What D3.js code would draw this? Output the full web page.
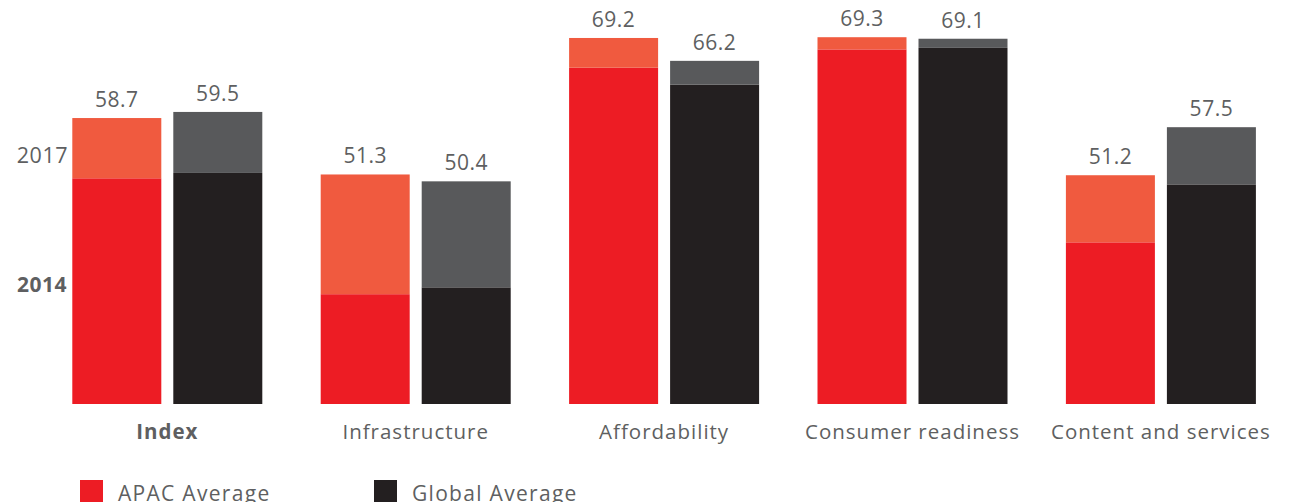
<!DOCTYPE html>
<html>
<head>
<meta charset="utf-8">
<script src="https://cdn.jsdelivr.net/npm/d3@7"></script>
<style>
  html, body { margin: 0; padding: 0; background: #fff; }
  svg { display: block; }
  text { font-family: "Open Sans", sans-serif; fill: #5e5f61; }
</style>
</head>
<body>
<svg id="chart" width="1289" height="502"></svg>
<script>
// Pillar scores, 2014 and 2017, for the APAC and global averages
const categories = ["Index", "Infrastructure", "Affordability", "Consumer readiness", "Content and services"];
const apac2014   = [50.8, 35.6, 65.3, 67.7, 42.4];
const apac2017   = [58.7, 51.3, 69.2, 69.3, 51.2];
const global2014 = [51.5, 36.5, 63.1, 67.9, 50.0];
const global2017 = [59.5, 50.4, 66.2, 69.1, 57.5];
const seriesNames = ["APAC Average", "Global Average"];
const yearLabels = ["2017", "2014"];

const colors = {
  apac:   { y2014: "#ed1c24", y2017: "#f05a3f" },
  global: { y2014: "#231f20", y2017: "#58595b" }
};

const svg = d3.select("#chart");
const baseline = 404;

// category centres
const x = d3.scalePoint()
  .domain(categories)
  .range([43.1, 1285.1])
  .padding(0.5);

const barW = 89, innerGap = 12;

const y = d3.scaleLinear()
  .domain([21.2, 74.18])
  .range([baseline, 0]);

const rows = categories.map((c, i) => ({
  cat: c,
  bars: [
    { key: "apac",   offset: -(innerGap / 2 + barW), v14: apac2014[i],   v17: apac2017[i] },
    { key: "global", offset: innerGap / 2,           v14: global2014[i], v17: global2017[i] }
  ]
}));

const groups = svg.selectAll("g.cat")
  .data(rows)
  .join("g")
  .attr("class", "cat")
  .attr("transform", d => `translate(${x(d.cat)},0)`);

const bars = groups.selectAll("g.bar")
  .data(d => d.bars)
  .join("g")
  .attr("class", "bar");

// 2014 portion
bars.append("rect")
  .attr("x", d => d.offset)
  .attr("width", barW)
  .attr("y", d => y(d.v14))
  .attr("height", d => baseline - y(d.v14))
  .attr("fill", d => colors[d.key].y2014);

// growth to 2017
bars.append("rect")
  .attr("x", d => d.offset)
  .attr("width", barW)
  .attr("y", d => y(d.v17))
  .attr("height", d => y(d.v14) - y(d.v17))
  .attr("fill", d => colors[d.key].y2017);

// 2017 value labels
bars.append("text")
  .attr("x", d => d.offset + barW / 2)
  .attr("y", d => y(d.v17) - 11)
  .attr("text-anchor", "middle")
  .style("font-size", "21px")
  .style("letter-spacing", "0.5px")
  .text(d => d3.format(".1f")(d.v17));

// category labels
groups.append("text")
  .attr("x", 0)
  .attr("y", 439)
  .attr("text-anchor", "middle")
  .style("font-size", "20.5px")
  .style("letter-spacing", "1px")
  .style("font-weight", (d, i) => i === 0 ? 700 : 400)
  .text(d => d.cat);

// year key on the left
svg.append("text")
  .attr("x", 68).attr("y", 163)
  .attr("text-anchor", "end")
  .style("font-size", "21.5px")
  .style("letter-spacing", "0.5px")
  .text(yearLabels[0]);
svg.append("text")
  .attr("x", 67).attr("y", 292)
  .attr("text-anchor", "end")
  .style("font-size", "21px")
  .style("letter-spacing", "0.5px")
  .style("font-weight", 700)
  .text(yearLabels[1]);

// legend
const legend = svg.selectAll("g.legend")
  .data(seriesNames)
  .join("g")
  .attr("class", "legend")
  .attr("transform", (d, i) => `translate(${80 + i * 294},480)`);
legend.append("rect")
  .attr("width", 23).attr("height", 23)
  .attr("fill", (d, i) => i === 0 ? colors.apac.y2014 : colors.global.y2014);
legend.append("text")
  .attr("x", 38).attr("y", 20.5)
  .style("font-size", "21px")
  .style("letter-spacing", "1.3px")
  .text(d => d);
</script>
</body>
</html>
